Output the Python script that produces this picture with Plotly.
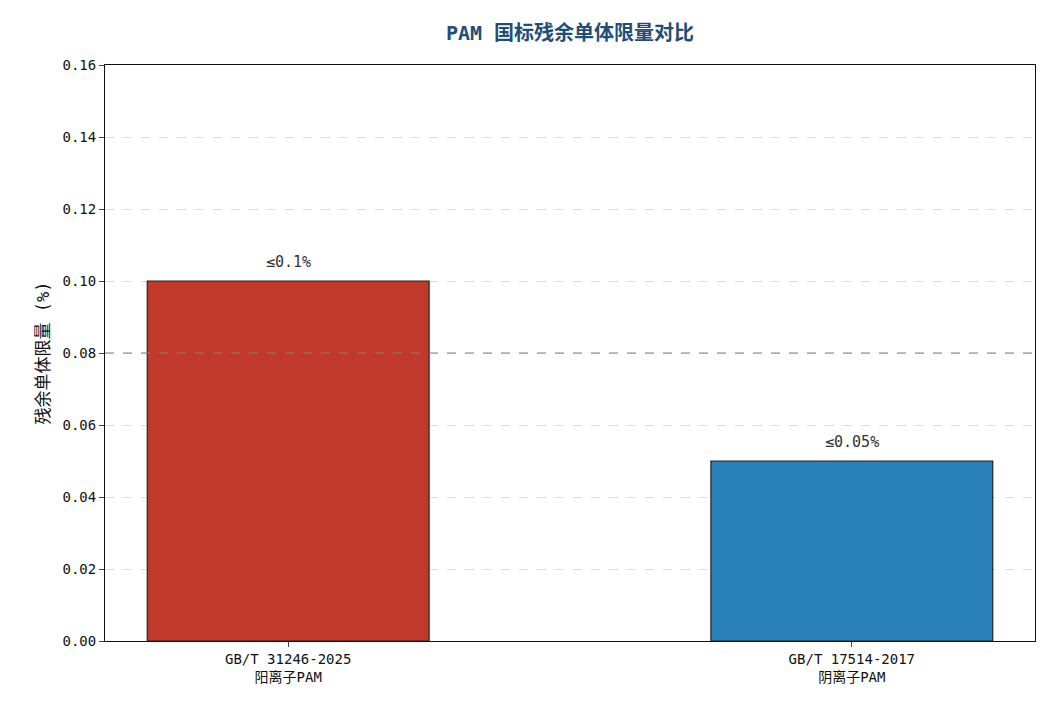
import plotly.graph_objects as go

categories = ["GB/T 31246-2025<br>阳离子PAM", "GB/T 17514-2017<br>阴离子PAM"]
values = [0.10, 0.05]
labels = ["≤0.1%", "≤0.05%"]
colors = ["#c0392b", "#2980b9"]
ref_line = 0.08
yticks = [0, 0.02, 0.04, 0.06, 0.08, 0.10, 0.12, 0.14, 0.16]

font = "DejaVu Sans Mono, Noto Sans CJK SC"
fig = go.Figure(go.Bar(
    x=[0, 1], y=values, width=0.5, marker=dict(color=colors, line=dict(color="#222", width=1.2))))
for i, (v, t) in enumerate(zip(values, labels)):
    fig.add_annotation(x=i, y=v, text=t, showarrow=False, yanchor="bottom", yshift=8,
                       font=dict(size=15, color="#333"))
fig.add_hline(y=ref_line, line=dict(color="gray", dash="dash", width=1.2))
fig.update_layout(
    width=1049, height=719, plot_bgcolor="white", paper_bgcolor="white",
    margin=dict(l=97, r=22, t=57, b=86), font=dict(family=font, size=14, color="#111"),
    showlegend=False,
    title=dict(text="<b>PAM 国标残余单体限量对比</b>", x=0.5, xref="paper", y=0.975,
               font=dict(size=20, color="#1f4e79", family=font)),
)
fig.update_xaxes(range=[-0.325, 1.325], tickvals=[0, 1], ticktext=categories, showline=True, mirror=True,
                 linecolor="#111", ticks="outside", ticklen=5, tickfont=dict(size=14))
fig.update_yaxes(range=[0, 0.16], tickvals=yticks, tickformat=".2f", showline=True, mirror=True,
                 linecolor="#111", ticks="outside", ticklen=5, showgrid=True, gridcolor="#ddd",
                 griddash="dash", zeroline=False, title=dict(text="残余单体限量 (%)", font=dict(size=17), standoff=8),
                 tickfont=dict(size=14))
fig.write_html("out.html")
